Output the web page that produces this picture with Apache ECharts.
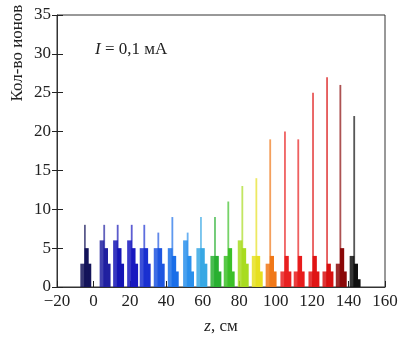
<!DOCTYPE html>
<html>
<head>
<meta charset="utf-8">
<script src="https://cdn.jsdelivr.net/npm/echarts@6/dist/echarts.min.js"></script>
<style>
  html, body { margin: 0; padding: 0; background: #fff; }
  #chart { width: 403px; height: 340px; }
</style>
</head>
<body>
<div id="chart"></div>
<script>
// положение пика каждой группы, см
const groupZ = [-5.2, 5.4, 12.8, 20.5, 27.4, 35.1, 42.8, 51.2, 58.5, 66.2, 73.5, 81.2, 88.9, 96.5, 104.6, 111.9, 120.0, 127.7, 135.0, 142.6];
// высота пика (кол-во ионов)
const peakCounts = [8, 8, 8, 8, 8, 7, 9, 7, 9, 9, 11, 13, 14, 19, 20, 19, 25, 27, 26, 22];
// ступеньки слева / справа от пика и хвост
const leftCounts = [3, 6, 6, 6, 5, 5, 5, 6, 5, 4, 4, 6, 4, 3, 2, 2, 2, 2, 3, 4];
const rightCounts = [5, 5, 5, 5, 5, 5, 4, 4, 5, 4, 5, 5, 4, 4, 4, 4, 4, 3, 5, 3];
const tailCounts = [3, 3, 3, 3, 3, 3, 2, 2, 3, 2, 2, 3, 2, 2, 2, 2, 2, 2, 2, 1];

const groupColors = [
  '#14145a', '#2020a0', '#1515b5', '#1818c0', '#1a30d0', '#1e55e0', '#1a6ee8',
  '#2a90ec', '#38a8e4', '#28b030', '#3cc028', '#a8dc20', '#e6e020', '#f07818',
  '#e82020', '#e81c1c', '#e01414', '#d81010', '#8a0808', '#101010'
];

const font = 'Liberation Serif';

const seriesData = groupZ.map((z, i) => [z, peakCounts[i], leftCounts[i], rightCounts[i], tailCounts[i], i]);

const myChart = echarts.init(document.getElementById('chart'));

myChart.setOption({
  animation: false,
  grid: {
    left: 57,
    right: 18,
    top: 15,
    bottom: 46,
    show: true,
    borderColor: '#333',
    borderWidth: 1
  },
  xAxis: {
    type: 'value',
    min: -20,
    max: 160,
    interval: 20,
    name: '{i|z}, см',
    nameLocation: 'middle',
    nameGap: 31,
    nameTextStyle: {
      fontFamily: font,
      fontSize: 17,
      color: '#222',
      rich: { i: { fontFamily: font, fontStyle: 'italic', fontSize: 17, color: '#222' } }
    },
    axisLine: { onZero: false, lineStyle: { color: '#333', width: 1 } },
    axisTick: { show: true, inside: true, length: 6, lineStyle: { color: '#222' } },
    axisLabel: {
      fontFamily: font,
      fontSize: 17,
      color: '#222',
      margin: 6,
      formatter: (v) => String(v).replace('-', '−')
    },
    splitLine: { show: false }
  },
  yAxis: [
    {
      type: 'value',
      min: 0,
      max: 35,
      interval: 5,
      axisLine: { show: true, onZero: false, lineStyle: { color: '#333', width: 1 } },
      axisTick: { show: true, inside: false, length: 5, lineStyle: { color: '#222' } },
      axisLabel: { fontFamily: font, fontSize: 17, color: '#222', margin: 6 },
      splitLine: { show: false }
    },
    {
      // внутренние засечки на той же оси
      type: 'value',
      position: 'left',
      min: 0,
      max: 35,
      interval: 5,
      axisLine: { show: false, onZero: false },
      axisTick: { show: true, inside: true, length: 6, lineStyle: { color: '#222' } },
      axisLabel: { show: false },
      splitLine: { show: false }
    }
  ],
  graphic: [
    {
      type: 'text',
      x: 18,
      y: 53,
      rotation: Math.PI / 2,
      style: {
        text: 'Кол-во ионов',
        fontFamily: font,
        fontSize: 17,
        fill: '#222',
        align: 'center',
        verticalAlign: 'middle'
      }
    },
    {
      type: 'text',
      left: 95,
      top: 41,
      style: {
        text: '{i|I} = 0,1 мА',
        fontFamily: font,
        fontSize: 17,
        fill: '#222',
        rich: { i: { fontFamily: font, fontStyle: 'italic', fontSize: 17, fill: '#222' } }
      }
    }
  ],
  series: [
    {
      type: 'custom',
      data: seriesData,
      encode: { x: 0, y: 1 },
      clip: true,
      renderItem: (params, api) => {
        const z = api.value(0);
        const color = groupColors[api.value(5)];
        const rect = (x0, x1, h, opacity) => {
          const p0 = api.coord([x0, h]);
          const p1 = api.coord([x1, 0]);
          return {
            type: 'rect',
            shape: { x: p0[0], y: p0[1], width: p1[0] - p0[0], height: p1[1] - p0[1] },
            style: { fill: color, opacity: opacity, stroke: null }
          };
        };
        // ступеньки перекрываются, чтобы не было белых щелей
        return {
          type: 'group',
          children: [
            rect(z + 0.3, z + 4.0, api.value(4), 1),
            rect(z + 0.3, z + 2.6, api.value(3), 1),
            rect(z - 2.0, z + 0.6, api.value(2), 0.85),
            rect(z, z + 1.0, api.value(1), 0.7) // пик
          ]
        };
      }
    }
  ]
});
</script>
</body>
</html>
